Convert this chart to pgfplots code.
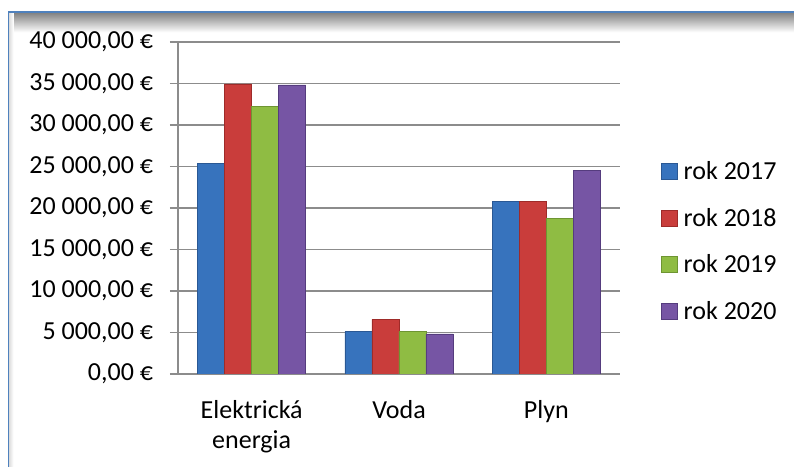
\documentclass[border=0pt]{standalone}
\usepackage{pgfplots}
\pgfplotsset{compat=1.18}
\usepackage{fontspec}
\setmainfont{Carlito}

\definecolor{frameblue}{HTML}{4F81BD}
\definecolor{gridgray}{HTML}{8C8C8C}
\definecolor{bluefill}{HTML}{3773BD}\definecolor{blueedge}{HTML}{2A5894}
\definecolor{redfill}{HTML}{C93D3B}\definecolor{rededge}{HTML}{9E2B29}
\definecolor{greenfill}{HTML}{8FBC43}\definecolor{greenedge}{HTML}{6E9532}
\definecolor{purplefill}{HTML}{7655A4}\definecolor{purpleedge}{HTML}{553C7E}

% 1 px of the reference = 0.75pt
\begin{document}
\begin{tikzpicture}
\useasboundingbox (0,0) rectangle (595.5pt,350.25pt);
% chart frame (runs off to the right and bottom)
\fill[white] (6pt,-5pt) rectangle (600pt,341.25pt);
\shade[top color=black!50, bottom color=white] (6.5pt,341pt) rectangle (600pt,326pt);
\shade[left color=black!15, right color=white] (6.5pt,-5pt) rectangle (10pt,341pt);
\draw[frameblue, line width=1.3pt] (6.4pt,-5pt) -- (6.4pt,341.1pt) -- (600pt,341.1pt);

\begin{axis}[
  at={(133.5pt,69.75pt)}, anchor=south west,
  scale only axis, width=331.5pt, height=249pt,
  font=\fontsize{19.5}{23}\selectfont,
  ybar=0pt, bar width=20.25pt,
  xmin=-0.5, xmax=2.5, ymin=0, ymax=40000,
  scaled y ticks=false,
  axis x line*=bottom, axis y line*=left,
  axis line style={gridgray, line width=1pt, -},
  xtick={0,1,2},
  xticklabels={{Elektrická\\energia},{Voda},{Plyn}},
  xticklabel style={align=center, inner sep=0pt},
  xticklabel shift=13.5pt,
  major x tick style={draw=none},
  extra x ticks={-0.5,0.5,1.5,2.5},
  extra x tick labels={},
  extra x tick style={tick align=outside, major tick length=6pt,
    tick style={gridgray, line width=1pt}, grid=none},
  ytick={0,5000,...,40000},
  yticklabels={{0,00 €},{5 000,00 €},{10 000,00 €},{15 000,00 €},{20 000,00 €},
    {25 000,00 €},{30 000,00 €},{35 000,00 €},{40 000,00 €}},
  yticklabel style={inner sep=0pt},
  yticklabel shift=12.5pt,
  tick align=outside, major tick length=6pt,
  major y tick style={gridgray, line width=1pt},
  ymajorgrids, major grid style={gridgray, line width=1.1pt},
  legend style={at={(1,0.399)}, anchor=west, xshift=30.5pt, draw=none,
    fill=none, inner sep=0pt, row sep=15.8pt,
    font=\fontsize{19.5}{23}\selectfont,
    /tikz/every odd column/.append style={column sep=2.5pt}},
  legend cell align=left,
  legend image code/.code={\draw[#1, line width=0.6pt] (0pt,-6pt) rectangle (12pt,6pt);},
]
\addplot[draw=blueedge, fill=bluefill, line width=0.6pt]
  coordinates {(0,25350) (1,5100) (2,20760)};
\addplot[draw=rededge, fill=redfill, line width=0.6pt]
  coordinates {(0,34940) (1,6590) (2,20840)};
\addplot[draw=greenedge, fill=greenfill, line width=0.6pt]
  coordinates {(0,32200) (1,5100) (2,18710)};
\addplot[draw=purpleedge, fill=purplefill, line width=0.6pt]
  coordinates {(0,34820) (1,4820) (2,24500)};
\legend{rok 2017, rok 2018, rok 2019, rok 2020}
\end{axis}
\end{tikzpicture}
\end{document}
